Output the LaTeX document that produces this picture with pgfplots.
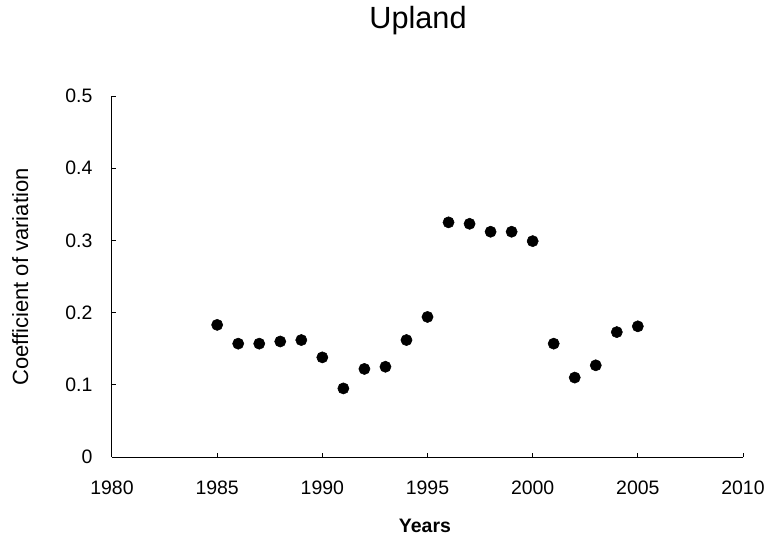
\documentclass[border=0pt]{standalone}
\usepackage{fontspec}
\setmainfont{Liberation Sans}
\usepackage{pgfplots}
\pgfplotsset{compat=1.18}
\begin{document}
\begin{tikzpicture}
\begin{axis}[
  scale only axis,
  width=473.25pt, height=270.75pt,
  at={(84pt,60pt)}, anchor=south west,
  xmin=1980, xmax=2010, ymin=0, ymax=0.5,
  xtick={1980,1985,...,2010},
  ytick={0,0.1,...,0.5},
  axis lines=left,
  axis line style={-, black, line width=0.75pt},
  tick style={black, line width=0.75pt},
  tick align=inside,
  major tick length=3pt,
  /pgf/number format/assume math mode=true,
  /pgf/number format/1000 sep={},
  yticklabel style={/pgf/number format/fixed, /pgf/number format/precision=1},
  tick label style={font=\fontsize{14.6}{17}\selectfont},
  xticklabel style={anchor=base, yshift=-27.75pt},
  yticklabel style={anchor=east, inner sep=0pt, xshift=-14.5pt},
  title={Upland},
  title style={at={(axis description cs:0.485,1.166)}, anchor=base, font=\fontsize{23}{27}\selectfont},
  xlabel={Years},
  xlabel style={at={(axis description cs:0.496,-0.2105)}, anchor=base, font=\fontsize{14.6}{17}\selectfont\bfseries},
  ylabel={Coefficient of variation},
  ylabel style={at={(axis description cs:-0.133,0.4986)}, anchor=base, rotate=0, font=\fontsize{16.5}{19}\selectfont},
  clip=false,
]
\addplot[only marks, mark=*, mark size=4.2pt, mark options={fill=black, draw=black}] coordinates {
(1985,0.183) (1986,0.157) (1987,0.157) (1988,0.160) (1989,0.162)
(1990,0.138) (1991,0.095) (1992,0.122) (1993,0.125) (1994,0.162)
(1995,0.194) (1996,0.325) (1997,0.323) (1998,0.312) (1999,0.312)
(2000,0.299) (2001,0.157) (2002,0.110) (2003,0.127) (2004,0.173)
(2005,0.181)
};
\end{axis}
\pgfresetboundingbox
\path[use as bounding box] (0,0) rectangle (576pt,402.75pt);
\end{tikzpicture}
\end{document}
